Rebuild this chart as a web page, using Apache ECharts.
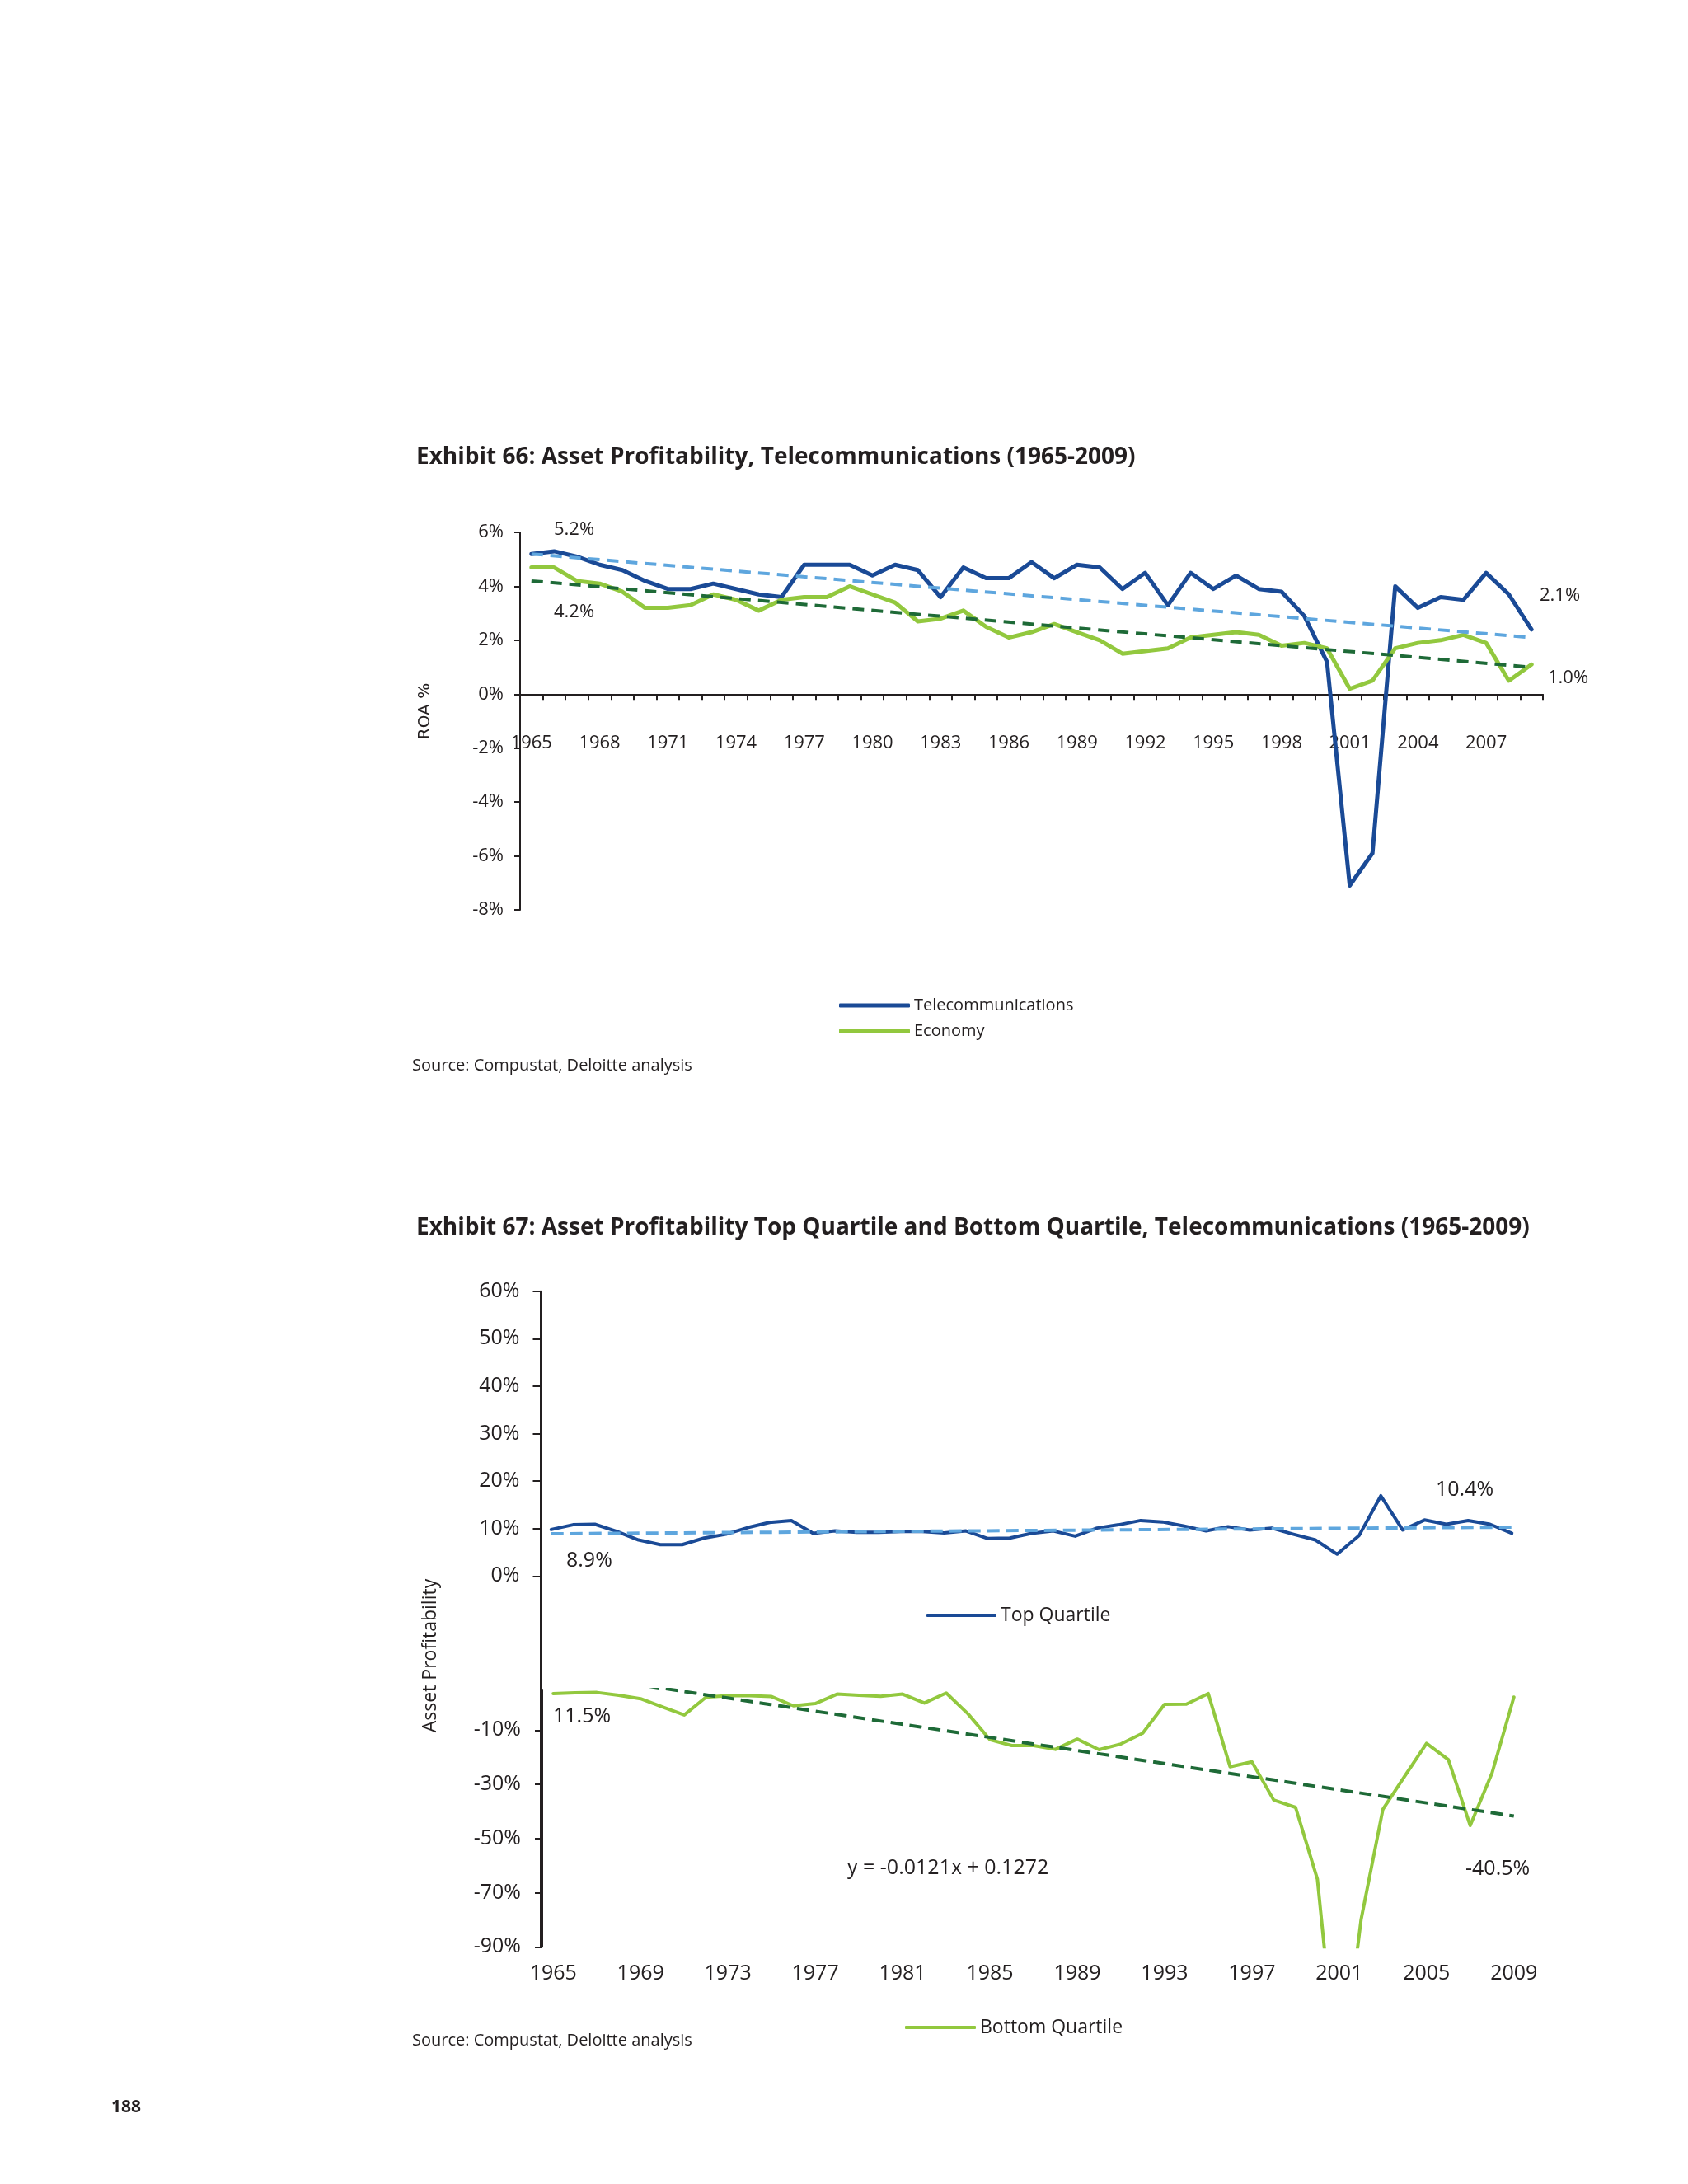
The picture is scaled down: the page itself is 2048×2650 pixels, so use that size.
<!DOCTYPE html>
<html><head><meta charset="utf-8">
<script src="https://cdn.jsdelivr.net/npm/echarts@6/dist/echarts.min.js"></script>
<style>html,body{margin:0;padding:0;background:#ffffff}#c{width:2048px;height:2650px}</style>
</head><body><div id="c"></div>
<script>
// ---------- data ----------
const years = ['1965','1966','1967','1968','1969','1970','1971','1972','1973','1974','1975','1976','1977','1978','1979','1980','1981','1982','1983','1984','1985','1986','1987','1988','1989','1990','1991','1992','1993','1994','1995','1996','1997','1998','1999','2000','2001','2002','2003','2004','2005','2006','2007','2008','2009'];

// Exhibit 66 (ROA %)
const telecom = [5.2,5.3,5.1,4.8,4.6,4.2,3.9,3.9,4.1,3.9,3.7,3.6,4.8,4.8,4.8,4.4,4.8,4.6,3.6,4.7,4.3,4.3,4.9,4.3,4.8,4.7,3.9,4.5,3.3,4.5,3.9,4.4,3.9,3.8,2.9,1.2,-7.1,-5.9,4.0,3.2,3.6,3.5,4.5,3.7,2.4];
const economy = [4.7,4.7,4.2,4.1,3.8,3.2,3.2,3.3,3.7,3.5,3.1,3.5,3.6,3.6,4.0,3.7,3.4,2.7,2.8,3.1,2.5,2.1,2.3,2.6,2.3,2.0,1.5,1.6,1.7,2.1,2.2,2.3,2.2,1.8,1.9,1.7,0.2,0.5,1.7,1.9,2.0,2.2,1.9,0.5,1.1];
const telecomTrend = [5.2, 2.1];   // 1965, 2009
const economyTrend = [4.2, 1.0];   // 1965, 2009

// Exhibit 67 (asset profitability %)
const topQuartile = [9.8,10.8,10.9,9.4,7.6,6.6,6.6,8.0,8.8,10.2,11.3,11.7,9.0,9.5,9.2,9.2,9.4,9.4,9.1,9.5,7.9,8.0,9.0,9.5,8.4,10.1,10.8,11.7,11.4,10.5,9.5,10.4,9.7,10.1,8.8,7.6,4.6,8.5,16.9,9.7,11.8,10.9,11.7,10.9,9.0];
const bottomQuartile = [3.5,3.8,3.9,2.9,1.6,-1.4,-4.4,2.2,2.7,2.7,2.4,-1.0,-0.2,3.3,2.9,2.5,3.3,0.0,3.7,-4.0,-13.5,-15.7,-15.7,-17.1,-13.3,-17.2,-15.1,-11.1,-0.5,-0.4,3.5,-23.5,-21.7,-35.8,-38.5,-65.0,-145.0,-80.0,-39.2,-27.0,-14.9,-20.9,-45.2,-25.8,2.2];
const topTrend = [8.9, 10.3];
const bottomTrend = [11.5, -41.7];

// axis scales
const ex66Axis = {min: -8, max: 6, interval: 2};
const ex67TopAxis = {min: 0, max: 60, interval: 10};
const ex67BottomAxis = {min: -90, max: 5, interval: 20};

// annotation texts
const ex66Notes = ['5.2%', '4.2%', '2.1%', '1.0%'];
const ex67Notes = ['10.4%', '8.9%', '11.5%', 'y = -0.0121x + 0.1272', '-40.5%'];

// ---------- chart ----------
const FONT = "'Open Sans', 'Noto Sans', sans-serif";
const INK = '#231f20';
const C = {navy:'#1a4a96', green:'#92c83e', lightBlue:'#5ea6de', darkGreen:'#1e6a37'};

function trendData(t){ return [[years[0], t[0]], [years[years.length-1], t[1]]]; }
const pct = v => v + '%';

const chart = echarts.init(document.getElementById('c'), null, {renderer:'canvas'});

function solid(name, data, color, width, xi){
  return {type:'line', name, data, xAxisIndex:xi, yAxisIndex:xi, symbol:'none', z:3,
    lineStyle:{color, width, cap:'round', join:'round'}, itemStyle:{color}, animation:false};
}
function dashed(name, t, color, width, dash, xi){
  return {type:'line', name, data:trendData(t), xAxisIndex:xi, yAxisIndex:xi, symbol:'none', z:4,
    lineStyle:{color, width, type:dash}, itemStyle:{color}, animation:false, silent:true};
}
function txt(text, x, y, size){
  return {type:'text', x, y, silent:true,
    style:{text, fill:INK, font: size + 'px ' + FONT, textAlign:'left', textVerticalAlign:'middle'}};
}

const option = {
  backgroundColor:'#ffffff',
  animation:false,
  title:[
    {text:'Exhibit 66: Asset Profitability, Telecommunications (1965-2009)', left:500, top:536,
     textStyle:{fontFamily:FONT, fontSize:28, fontWeight:'bold', color:INK}},
    {text:'Exhibit 67: Asset Profitability Top Quartile and Bottom Quartile, Telecommunications (1965-2009)', left:500, top:1471,
     textStyle:{fontFamily:FONT, fontSize:28, fontWeight:'bold', color:INK}}
  ],
  legend:[
    {data:['Telecommunications','Economy'], orient:'vertical', left:1013, top:1204, itemGap:9,
     itemWidth:86, itemHeight:5, icon:'roundRect', textStyle:{fontFamily:FONT, fontSize:20, color:INK, lineHeight:22}},
    {data:['Top Quartile'], left:1119, top:1941, itemWidth:85, itemHeight:4, icon:'roundRect',
     textStyle:{fontFamily:FONT, fontSize:23, color:INK, lineHeight:28}},
    {data:['Bottom Quartile'], left:1093, top:2441, itemWidth:86, itemHeight:4, icon:'roundRect',
     textStyle:{fontFamily:FONT, fontSize:23, color:INK, lineHeight:28}}
  ],
  grid:[
    {left:631, top:646, width:1241, height:458},
    {left:655.5, top:1566.7, width:1192, height:345.6},
    {left:655.5, top:1912.3, width:1192, height:450},
    {left:658, top:2050, width:1192, height:312.3}
  ],
  xAxis:[
    {type:'category', gridIndex:0, data:years, boundaryGap:true,
     axisLine:{onZero:true, lineStyle:{color:INK, width:2}},
     axisTick:{show:true, interval:0, length:7, lineStyle:{color:INK, width:2}},
     axisLabel:{interval:2, margin:-213, fontFamily:FONT, fontSize:22, color:INK},
     splitLine:{show:false}},
    {type:'category', gridIndex:1, data:years, boundaryGap:true, show:false},
    {type:'category', gridIndex:2, data:years, boundaryGap:true, show:false},
    {type:'category', gridIndex:3, data:years, boundaryGap:true,
     axisLine:{show:false, onZero:false}, axisTick:{show:false},
     axisLabel:{interval:3, margin:20, fontFamily:FONT, fontSize:25, color:INK},
     splitLine:{show:false}}
  ],
  yAxis:[
    {type:'value', gridIndex:0, min:ex66Axis.min, max:ex66Axis.max, interval:ex66Axis.interval,
     axisLine:{show:true, lineStyle:{color:INK, width:2}},
     axisTick:{show:true, length:7, lineStyle:{color:INK, width:2}},
     axisLabel:{formatter:pct, margin:20, fontFamily:FONT, fontSize:22, color:INK},
     splitLine:{show:false}},
    {type:'value', gridIndex:1, min:ex67TopAxis.min, max:ex67TopAxis.max, interval:ex67TopAxis.interval,
     axisLine:{show:true, lineStyle:{color:INK, width:2}},
     axisTick:{show:true, length:9, lineStyle:{color:INK, width:2}},
     axisLabel:{formatter:pct, margin:25, fontFamily:FONT, fontSize:25, color:INK},
     splitLine:{show:false}},
    {type:'value', gridIndex:2, min:0, max:1,
     axisLine:{show:true, lineStyle:{color:INK, width:2}},
     axisTick:{show:false}, axisLabel:{show:false}, splitLine:{show:false}},
    {type:'value', gridIndex:3, min:ex67BottomAxis.min, max:ex67BottomAxis.max, interval:ex67BottomAxis.interval,
     axisLine:{show:true, lineStyle:{color:INK, width:2}},
     axisTick:{show:true, length:9, lineStyle:{color:INK, width:2}},
     axisLabel:{formatter:pct, margin:26, showMaxLabel:false, fontFamily:FONT, fontSize:25, color:INK},
     splitLine:{show:false}}
  ],
  series:[
    solid('Telecommunications', telecom, C.navy, 5, 0),
    solid('Economy', economy, C.green, 5, 0),
    dashed('Telecom trend', telecomTrend, C.lightBlue, 4, [14,9], 0),
    dashed('Economy trend', economyTrend, C.darkGreen, 4, [14,9], 0),
    solid('Top Quartile', topQuartile, C.navy, 4, 1),
    dashed('Top trend', topTrend, C.lightBlue, 4, [15,8], 1),
    solid('Bottom Quartile', bottomQuartile, C.green, 4, 3),
    dashed('Bottom trend', bottomTrend, C.darkGreen, 4, [15,8], 3)
  ],
  graphic:[
    txt(ex66Notes[0], 672, 643, 22),
    txt(ex66Notes[1], 672, 743, 22),
    txt(ex66Notes[2], 1868, 723, 22),
    txt(ex66Notes[3], 1878, 823, 22),
    {type:'text', x:516, y:863, rotation:Math.PI/2, silent:true,
     style:{text:'ROA %', fill:INK, font:"20px 'DejaVu Sans', sans-serif", textAlign:'center', textVerticalAlign:'middle'}},
    txt('Source: Compustat, Deloitte analysis', 500, 1293, 20),
    txt(ex67Notes[0], 1742, 1808, 25),
    txt(ex67Notes[1], 687, 1894, 25),
    txt(ex67Notes[2], 671, 2083, 25),
    txt(ex67Notes[3], 1028, 2267, 25),
    txt(ex67Notes[4], 1778, 2268, 25),
    {type:'text', x:522, y:2009, rotation:Math.PI/2, silent:true,
     style:{text:'Asset Profitability', fill:INK, font:'23px ' + FONT, textAlign:'center', textVerticalAlign:'middle'}},
    txt('Source: Compustat, Deloitte analysis', 500, 2476, 20),
    {type:'text', x:135, y:2557, silent:true,
     style:{text:'188', fill:INK, font:'bold 21px ' + FONT, textAlign:'left', textVerticalAlign:'middle'}}
  ]
};
chart.setOption(option);
</script>
</body></html>
